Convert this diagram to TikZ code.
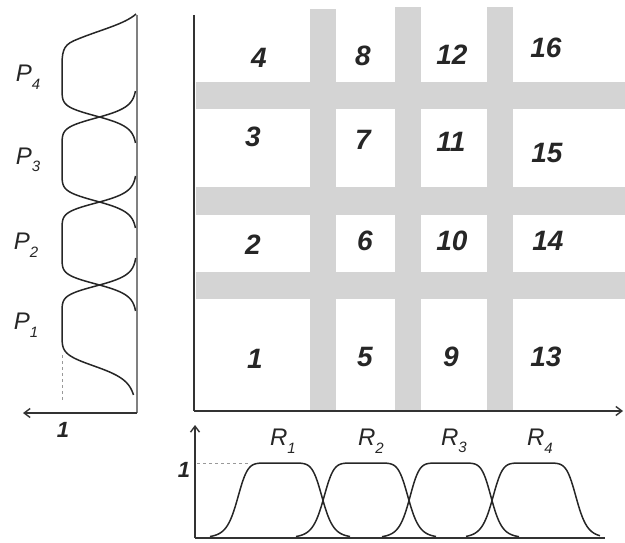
\documentclass[tikz,border=0pt]{standalone}
\usepackage{fontspec}
\setmainfont{Liberation Sans}
\usetikzlibrary{arrows.meta}
\newcommand\lsub[2]{#1\raisebox{-0.6ex}{\fontsize{15}{15}\selectfont #2}}
\tikzset{
  declare function={
    bell(\t,\c,\a,\b)=1/(1+(abs(\t-\c)/\a)^(2*\b));
  },
  band/.style={fill=black!17,draw=none},
  axisline/.style={draw=black!80,line width=1.4pt},
  faintaxis/.style={draw=black!50,line width=1.3pt},
  curve/.style={draw=black!85,line width=1.5pt,line join=round},
  guide/.style={draw=black!40,dashed,line width=0.8pt},
  cellnum/.style={inner sep=0pt,font=\fontsize{28}{28}\selectfont\bfseries\itshape,text=black!85},
  setlabel/.style={inner sep=0pt,font=\fontsize{24}{24}\selectfont\itshape,text=black!85},
  onelabel/.style={inner sep=0pt,font=\fontsize{22}{22}\selectfont\bfseries\itshape,text=black!85},
  tip/.style={-{Straight Barb[length=6pt,width=9pt,line width=1.4pt]}}
}
\begin{document}
\begin{tikzpicture}[x=1pt,y=-1pt]
\useasboundingbox (0,0) rectangle (625,543);
% grey bands
\fill[band] (196,82) rectangle (625,109);
\fill[band] (196,187) rectangle (625,215);
\fill[band] (196,272) rectangle (625,299);
\fill[band] (310,9) rectangle (336,411);
\fill[band] (395,7) rectangle (421,411);
\fill[band] (487,7) rectangle (513,411);
% main axes
\coordinate (gtop) at (194,15);
\coordinate (gorig) at (194,411);
\coordinate (gend) at (623,411);
\draw[axisline] (gtop) -- (gorig);
\draw[axisline,tip] (gorig) -- (gend);
% cell numbers
\node[cellnum] (n4) at (259,58) {4};
\node[cellnum] (n8) at (363,56) {8};
\node[cellnum] (n12) at (452,55) {12};
\node[cellnum] (n16) at (546,48) {16};
\node[cellnum] (n3) at (253,137) {3};
\node[cellnum] (n7) at (363,140) {7};
\node[cellnum] (n11) at (451,142) {11};
\node[cellnum] (n15) at (547,153) {15};
\node[cellnum] (n2) at (253,245) {2};
\node[cellnum] (n6) at (365,241) {6};
\node[cellnum] (n10) at (452,241) {10};
\node[cellnum] (n14) at (548,241) {14};
\node[cellnum] (n1) at (255,359) {1};
\node[cellnum] (n5) at (365,357) {5};
\node[cellnum] (n9) at (451,357) {9};
\node[cellnum] (n13) at (546,357) {13};
% left plot
\coordinate (ptop) at (137,15);
\coordinate (porig) at (137,413);
\coordinate (pend) at (23,413);
\draw[faintaxis] (ptop) -- (porig);
\draw[axisline,tip] (porig) -- (pend);
\draw[guide] (62,355) -- (62,402);
\draw[curve] plot[domain=258:326.5,samples=90] ({137-75*bell(\x,326.5,41.5,4)},\x)
  -- plot[domain=326.5:395,samples=90] ({137-75*bell(\x,326.5,41.5,3)},\x);
\draw[curve] plot[domain=176:311,samples=160] ({137-75*bell(\x,243.5,41.5,4)},\x);
\draw[curve] plot[domain=91:228,samples=160] ({137-75*bell(\x,159.5,42.5,4)},\x);
\draw[curve] plot[domain=143:65,samples=100] ({137-75*bell(max(\x,75),75,42,4)},\x)
  .. controls (62,48) and (65,44) .. (78,39)
  .. controls (100,30) and (125,24) .. (136,14);
\node[setlabel] (p4) at (28,77) {\lsub{P}{4}};
\node[setlabel] (p3) at (28,160) {\lsub{P}{3}};
\node[setlabel] (p2) at (26,245) {\lsub{P}{2}};
\node[setlabel] (p1) at (26,325) {\lsub{P}{1}};
\node[onelabel] (pone) at (63,430) {1};
% bottom plot
\coordinate (rorig) at (195,538);
\coordinate (rtop) at (195,425);
\coordinate (rend) at (605,538);
\draw[axisline,tip] (rorig) -- (rtop);
\draw[axisline] (rorig) -- (rend);
\draw[guide] (197,463) -- (250,463);
\draw[curve] plot[domain=210:350,samples=160] (\x,{538-75*bell(\x,280,43,4)});
\draw[curve] plot[domain=296:436,samples=160] (\x,{538-75*bell(\x,366,43,4)});
\draw[curve] plot[domain=382:519,samples=160] (\x,{538-75*bell(\x,450.5,41.5,4)});
\draw[curve] plot[domain=466:600,samples=160] (\x,{538-75*bell(\x,534.5,42.5,4)});
\node[setlabel] (r1) at (283,441) {\lsub{R}{1}};
\node[setlabel] (r2) at (371,441) {\lsub{R}{2}};
\node[setlabel] (r3) at (454,441) {\lsub{R}{3}};
\node[setlabel] (r4) at (540,441) {\lsub{R}{4}};
\node[onelabel] (rone) at (184,470) {1};
\end{tikzpicture}
\end{document}
